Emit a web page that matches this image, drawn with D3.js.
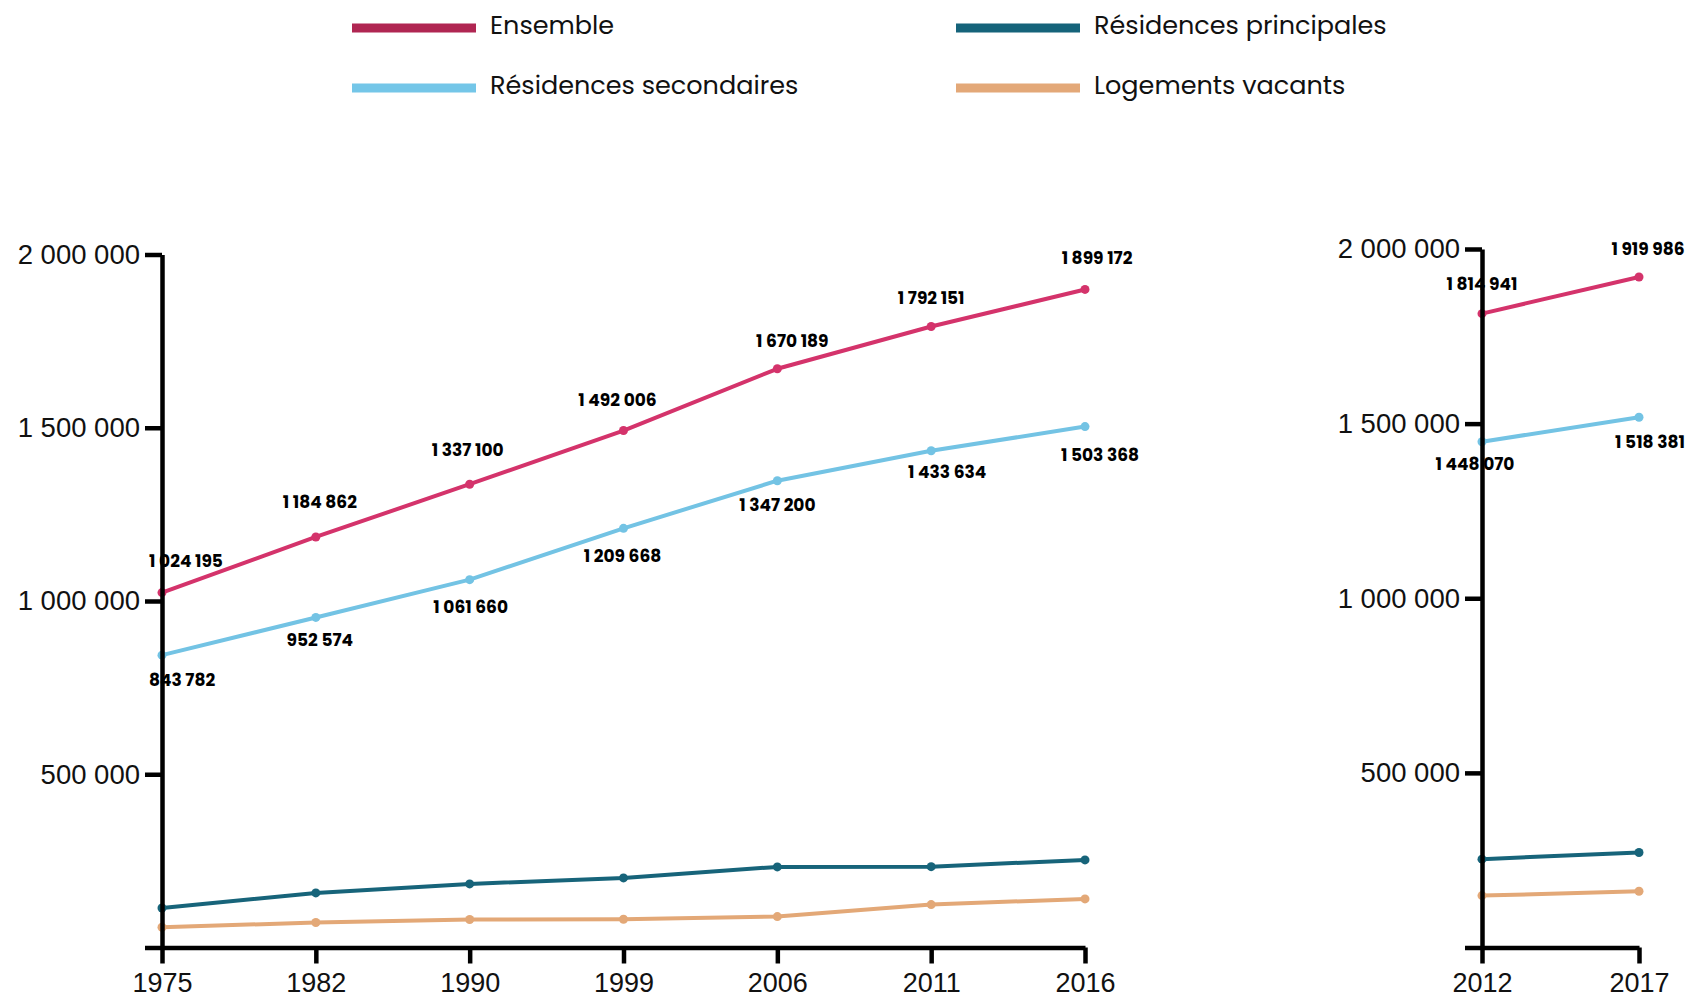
<!DOCTYPE html>
<html lang="fr">
<head>
<meta charset="utf-8">
<script src="https://cdn.jsdelivr.net/npm/d3@7"></script>
<style>
  html, body { margin: 0; padding: 0; background: #fff; }
  svg { display: block; font-family: Poppins, "Open Sans", Inter, sans-serif; }
  .val { font-weight: 700; font-size: 17px; fill: #000; }
  .axis text { font-weight: 400; fill: #111; }
  .y-axis text { font-size: 27.5px; }
  .x-axis text { font-size: 27px; }
  .legend text { font-size: 25.5px; fill: #111; }
</style>
</head>
<body>
<svg id="chart" width="1688" height="997"></svg>
<script>
// ---- Données : période 1975-2016 ----
const years1 = ["1975", "1982", "1990", "1999", "2006", "2011", "2016"];
const ensemble1 = [1024195, 1184862, 1337100, 1492006, 1670189, 1792151, 1899172];
const secondaires1 = [843782, 952574, 1061660, 1209668, 1347200, 1433634, 1503368];
const principales1 = [114000, 157600, 183600, 200900, 232600, 233400, 252700];
const vacants1 = [58500, 72000, 80700, 81600, 89300, 123900, 140300];

// ---- Données : période 2012-2017 ----
const years2 = ["2012", "2017"];
const ensemble2 = [1814941, 1919986];
const secondaires2 = [1448070, 1518381];
const principales2 = [253000, 272000];
const vacants2 = [148600, 160900];

// ---- Graduations de l'axe vertical ----
const yTicks = [0, 500000, 1000000, 1500000, 2000000];

// ---- Séries (libellés de légende) ----
const seriesNames = ["Ensemble", "Résidences principales", "Résidences secondaires", "Logements vacants"];

// Styles
const lineColor = {
  "Ensemble": "#d4336b",
  "Résidences principales": "#17647a",
  "Résidences secondaires": "#73c3e4",
  "Logements vacants": "#e3a877"
};
const swatchColor = {
  "Ensemble": "#b02652",
  "Résidences principales": "#15637a",
  "Résidences secondaires": "#74c6e8",
  "Logements vacants": "#e3a878"
};

// Décalage des étiquettes de valeur par rapport au point [dx, dy]
const nudgeE1 = [[24, -32], [4, -35], [-2, -34], [-6, -31], [15, -28], [0, -29], [12, -31]];
const nudgeS1 = [[20, 25], [4, 23], [1, 27], [-1, 28], [0, 24], [16, 21], [15, 28]];
const nudgeE2 = [[0, -30], [9, -28]];
const nudgeS2 = [[-7, 22], [11, 25]];

const fmt = d3.formatLocale({ decimal: ",", thousands: "\u00a0", grouping: [3] }).format(",d");

const svg = d3.select("#chart");

// ---- Légende ----
const legendItems = [
  { name: seriesNames[0], x: 352, y: 28 },
  { name: seriesNames[1], x: 956, y: 28 },
  { name: seriesNames[2], x: 352, y: 88 },
  { name: seriesNames[3], x: 956, y: 88 }
];
const lg = svg.append("g").attr("class", "legend");
legendItems.forEach(it => {
  lg.append("rect")
    .attr("x", it.x).attr("y", it.y - 4.5)
    .attr("width", 124).attr("height", 9)
    .attr("fill", swatchColor[it.name]);
  lg.append("text")
    .attr("x", it.x + 138).attr("y", it.y - 3)
    .attr("dominant-baseline", "central")
    .text(it.name);
});

// ---- Dessin d'un panneau ----
function panel(opts) {
  const { years, ensemble, secondaires, principales, vacants, x0, x1, yTop, nudgeE, nudgeS } = opts;
  const y = d3.scaleLinear().domain([0, 2000000]).range([947.5, yTop]);
  const x = d3.scalePoint().domain(years).range([x0, x1]);
  const g = svg.append("g");

  const series = [
    { name: "Logements vacants", values: vacants },
    { name: "Résidences principales", values: principales },
    { name: "Résidences secondaires", values: secondaires },
    { name: "Ensemble", values: ensemble }
  ];

  const line = d3.line().x((d, i) => x(years[i])).y(d => y(d));

  series.forEach(s => {
    g.append("path")
      .datum(s.values)
      .attr("d", line)
      .attr("fill", "none")
      .attr("stroke", lineColor[s.name])
      .attr("stroke-width", 4)
      .attr("stroke-linejoin", "round");
    g.selectAll(null)
      .data(s.values)
      .join("circle")
      .attr("cx", (d, i) => x(years[i]))
      .attr("cy", d => y(d))
      .attr("r", 4.5)
      .attr("fill", lineColor[s.name]);
  });

  // Étiquettes de valeur
  const labels = g.append("g");
  labels.selectAll(null)
    .data(ensemble)
    .join("text")
    .attr("class", "val")
    .attr("x", (d, i) => x(years[i]) + nudgeE[i][0])
    .attr("y", (d, i) => y(d) + nudgeE[i][1])
    .attr("text-anchor", "middle")
    .attr("dominant-baseline", "central")
    .text(d => fmt(d));
  labels.selectAll(null)
    .data(secondaires)
    .join("text")
    .attr("class", "val")
    .attr("x", (d, i) => x(years[i]) + nudgeS[i][0])
    .attr("y", (d, i) => y(d) + nudgeS[i][1])
    .attr("text-anchor", "middle")
    .attr("dominant-baseline", "central")
    .text(d => fmt(d));

  // Axes (au-dessus des courbes et étiquettes)
  const yAxis = d3.axisLeft(y)
    .tickValues(yTicks)
    .tickSize(17)
    .tickSizeOuter(0)
    .tickPadding(5)
    .tickFormat(d => d === 0 ? "" : fmt(d));
  const ya = g.append("g")
    .attr("class", "axis y-axis")
    .attr("transform", `translate(${x0},0)`)
    .call(yAxis);

  const xAxis = d3.axisBottom(x)
    .tickSize(16)
    .tickSizeOuter(0)
    .tickPadding(9.5);
  const xa = g.append("g")
    .attr("class", "axis x-axis")
    .attr("transform", `translate(0,${y(0)})`)
    .call(xAxis);

  [ya, xa].forEach(a => {
    a.select(".domain").attr("stroke", "#000").attr("stroke-width", 4.5);
    a.selectAll(".tick line").attr("stroke", "#000").attr("stroke-width", 4.5);
    a.selectAll(".tick text").attr("fill", "#111");
  });
  xa.selectAll(".tick text").attr("dy", "0.71em");
}

panel({
  years: years1, ensemble: ensemble1, secondaires: secondaires1,
  principales: principales1, vacants: vacants1,
  x0: 162, x1: 1085, yTop: 254.5, nudgeE: nudgeE1, nudgeS: nudgeS1
});
panel({
  years: years2, ensemble: ensemble2, secondaires: secondaires2,
  principales: principales2, vacants: vacants2,
  x0: 1482, x1: 1639, yTop: 249, nudgeE: nudgeE2, nudgeS: nudgeS2
});
</script>
</body>
</html>
